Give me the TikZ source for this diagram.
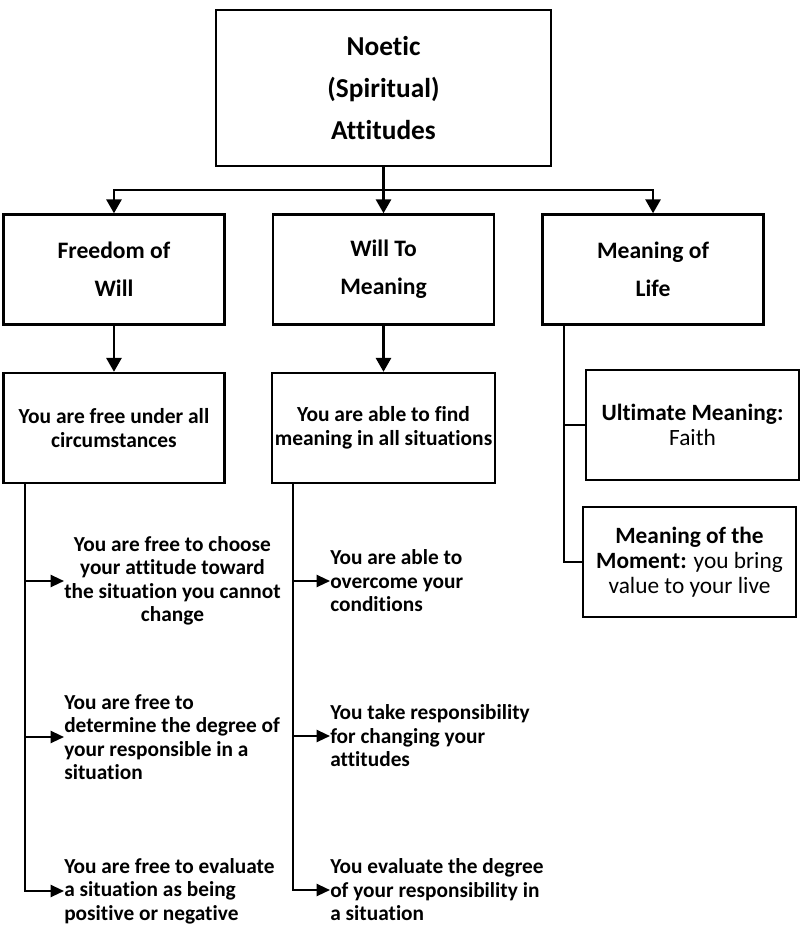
\documentclass[tikz,border=0pt]{standalone}
\usepackage{fontspec}
\setmainfont{Carlito}[Ligatures={NoCommon}]
\usetikzlibrary{positioning,arrows.meta,calc}

\tikzset{
  head/.style={draw,line width=1.9pt,align=center,inner sep=2pt,
    minimum width=165.75pt,minimum height=82.5pt,
    font=\bfseries\fontsize{17.7}{28.5}\selectfont},
  sub/.style={head,font=\bfseries\fontsize{16.1}{18}\selectfont},
  aside/.style={draw,line width=1.9pt,align=center,inner sep=2pt,
    minimum width=159.75pt,minimum height=82.5pt,
    font=\fontsize{17.5}{18.75}\selectfont},
  leaf/.style={inner sep=0pt,anchor=west,align=left,
    font=\bfseries\fontsize{16}{17.6}\selectfont},
  link/.style={line width=1.6pt},
  arrowed/.style={link,-{Triangle[length=10.5pt,width=11.5pt]}},
  pointer/.style={link,-{Triangle[length=10pt,width=9pt]}}
}

\begin{document}
\begin{tikzpicture}[x=0.75pt,y=-0.75pt,node distance=34.5pt]
  \useasboundingbox (0,0) rectangle (801,927);

  \node[head,minimum width=251.25pt,minimum height=117pt,
        font=\bfseries\fontsize{20.5}{31.5}\selectfont]
                      (Noetic)  at (383.5,88) {Noetic\\(Spiritual)\\Attitudes};
  \node[head]         (WillM)   [below=of Noetic]  {Will To\\Meaning};
  \node[head]         (Freedom) [left=of WillM]    {Freedom of\\Will};
  \node[head]         (LifeM)   [right=of WillM]   {Meaning of\\Life};
  \node[sub]          (FreeAll) [below=of Freedom] {You are free under all\\circumstances};
  \node[sub]          (AbleAll) [below=of WillM]   {You are able to find\\meaning in all situations};

  \node[leaf,align=center] (FreeA) at (64,581)
    {You are free to choose\\your attitude toward\\the situation you cannot\\change};
  \node[leaf] (FreeB) at (64,737)
    {You are free to\\determine the degree of\\your responsible in a\\situation};
  \node[leaf] (FreeC) at (64,891)
    {You are free to evaluate\\a situation as being\\positive or negative};

  \node[leaf] (AbleA) at (330,581) {You are able to\\overcome your\\conditions};
  \node[leaf] (AbleB) at (330,736) {You take responsibility\\for changing your\\attitudes};
  \node[leaf] (AbleC) at (330,890) {You evaluate the degree\\of your responsibility in\\a situation};

  \node[aside] (Ultimate) at (692.5,425) {\textbf{Ultimate Meaning:}\\Faith};
  \node[aside] (Moment)   at (689.5,562)
    {\textbf{Meaning of the}\\\textbf{Moment:} you bring\\value to your live};

  \coordinate (Split)     at ($(Noetic.south)+(0,23)$);
  \coordinate (FreeSpine) at ($(FreeAll.south west)+(23,0)$);
  \coordinate (AbleSpine) at ($(AbleAll.south west)+(22,0)$);
  \coordinate (LifeSpine) at ($(LifeM.south west)+(23,0)$);

  \draw[arrowed] (Noetic.south) -- (WillM.north);
  \draw[arrowed] (Split) -| (Freedom.north);
  \draw[arrowed] (Split) -| (LifeM.north);
  \draw[arrowed] (Freedom) -- (FreeAll);
  \draw[arrowed] (WillM) -- (AbleAll);

  \draw[pointer] (FreeSpine) |- (FreeC);
  \draw[pointer] (FreeSpine |- FreeA) -- (FreeA);
  \draw[pointer] (FreeSpine |- FreeB) -- (FreeB);

  \draw[pointer] (AbleSpine) |- (AbleC);
  \draw[pointer] (AbleSpine |- AbleA) -- (AbleA);
  \draw[pointer] (AbleSpine |- AbleB) -- (AbleB);

  \draw[link] (LifeSpine) |- (Moment);
  \draw[link] (LifeSpine |- Ultimate) -- (Ultimate);
\end{tikzpicture}
\end{document}
